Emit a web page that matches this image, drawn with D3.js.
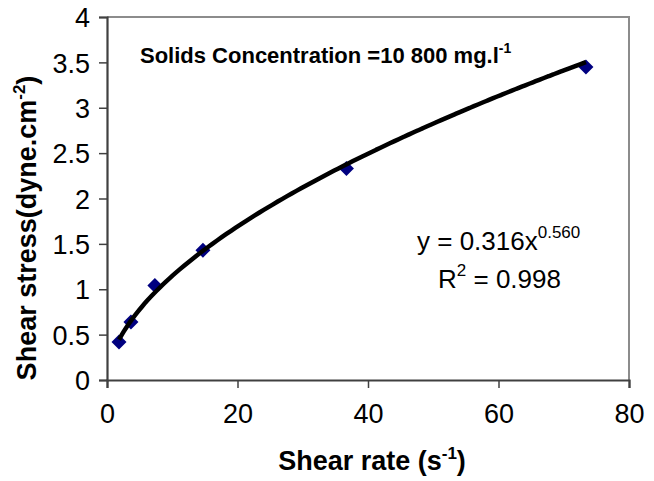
<!DOCTYPE html>
<html>
<head>
<meta charset="utf-8">
<script src="https://cdn.jsdelivr.net/npm/d3@7"></script>
<style>
  html, body { margin: 0; padding: 0; background: #fff; }
  svg { display: block; font-family: "Liberation Sans", Arial, sans-serif; }
</style>
</head>
<body>
<svg id="chart" width="654" height="481"></svg>
<script>
// ---- data ----
const shearRate   = [1.84, 3.67, 7.34, 14.7, 36.7, 73.4];
const shearStress = [0.42, 0.64, 1.04, 1.43, 2.33, 3.45];
const xTicks = [0, 20, 40, 60, 80];
const yTicks = [0, 0.5, 1, 1.5, 2, 2.5, 3, 3.5, 4];
const fitA = 0.316;
const fitB = 0.560;
const fitR2 = 0.998;
const titleText = "Solids Concentration =10 800 mg.l";
const titleSup = "-1";

// ---- layout ----
const W = 654, H = 481;
const plot = { left: 107, right: 629, top: 17, bottom: 380 };
const svg = d3.select("#chart");

const x = d3.scaleLinear().domain([0, 80]).range([plot.left, plot.right]);
const y = d3.scaleLinear().domain([0, 4]).range([plot.bottom, plot.top]);

svg.append("rect").attr("width", W).attr("height", H).attr("fill", "#fff");

// plot frame (top & right)
svg.append("path")
  .attr("d", `M${plot.left},${plot.top}H${plot.right}V${plot.bottom}`)
  .attr("fill", "none").attr("stroke", "#8c8c8c").attr("stroke-width", 2);

// axes
const xAxis = d3.axisBottom(x).tickValues(xTicks).tickSize(8).tickPadding(16).tickFormat(d3.format("d"));
const yAxis = d3.axisLeft(y).tickValues(yTicks).tickSize(8).tickPadding(9).tickFormat(d => String(d));

const gx = svg.append("g").attr("transform", `translate(0,${plot.bottom})`).call(xAxis);
const gy = svg.append("g").attr("transform", `translate(${plot.left},0)`).call(yAxis);

[gx, gy].forEach(g => {
  g.select(".domain").attr("stroke", "#404040").attr("stroke-width", 2.2);
  g.selectAll(".tick line").attr("stroke", "#404040").attr("stroke-width", 1.5);
  g.selectAll(".tick text").attr("fill", "#000").attr("font-size", 27)
    .attr("font-family", "'Liberation Sans', Arial, sans-serif");
});
gy.selectAll(".tick text").attr("dy", "0.36em");

// markers (diamonds)
const dsz = 7.5;
svg.append("g").selectAll("path").data(shearRate.map((v, i) => [v, shearStress[i]]))
  .join("path")
  .attr("d", d => {
    const cx = x(d[0]), cy = y(d[1]);
    return `M${cx},${cy - dsz}L${cx + dsz},${cy}L${cx},${cy + dsz}L${cx - dsz},${cy}Z`;
  })
  .attr("fill", "#000080");

// power trendline
const xmin = d3.min(shearRate), xmax = d3.max(shearRate);
const fitPts = d3.range(0, 101).map(i => {
  const xv = xmin + (xmax - xmin) * i / 100;
  return [xv, fitA * Math.pow(xv, fitB)];
});
svg.append("path")
  .attr("d", d3.line().x(d => x(d[0])).y(d => y(d[1])).curve(d3.curveBasis)(fitPts))
  .attr("fill", "none").attr("stroke", "#000").attr("stroke-width", 4.5)
  .attr("stroke-linecap", "butt");

// title annotation
const t = svg.append("text").attr("x", 140).attr("y", 63)
  .attr("font-size", 22).attr("font-weight", "bold").attr("fill", "#000");
t.append("tspan").text(titleText);
t.append("tspan").attr("font-size", 14).attr("dy", -10).text(titleSup);

// equation
const eq = svg.append("text").attr("x", 417).attr("y", 250)
  .attr("font-size", 26).attr("fill", "#000");
eq.append("tspan").text(`y = ${fitA.toFixed(3)}x`);
eq.append("tspan").attr("font-size", 17).attr("dy", -12).text(fitB.toFixed(3));

const r2 = svg.append("text").attr("x", 438).attr("y", 288)
  .attr("font-size", 26).attr("fill", "#000");
r2.append("tspan").text("R");
r2.append("tspan").attr("font-size", 17).attr("dy", -12).text("2");
r2.append("tspan").attr("dy", 12).text(` = ${fitR2.toFixed(3)}`);

// axis titles
const xl = svg.append("text").attr("x", 372).attr("y", 470).attr("text-anchor", "middle")
  .attr("font-size", 27).attr("font-weight", "bold").attr("fill", "#000");
xl.append("tspan").text("Shear rate (s");
xl.append("tspan").attr("font-size", 17).attr("dy", -11).text("-1");
xl.append("tspan").attr("dy", 11).text(")");

const yl = svg.append("text").attr("transform", "translate(36,228) rotate(-90)")
  .attr("text-anchor", "middle")
  .attr("font-size", 27).attr("font-weight", "bold").attr("fill", "#000");
yl.append("tspan").text("Shear stress(dyne.cm");
yl.append("tspan").attr("font-size", 17).attr("dy", -11).text("-2");
yl.append("tspan").attr("dy", 11).text(")");
</script>
</body>
</html>
